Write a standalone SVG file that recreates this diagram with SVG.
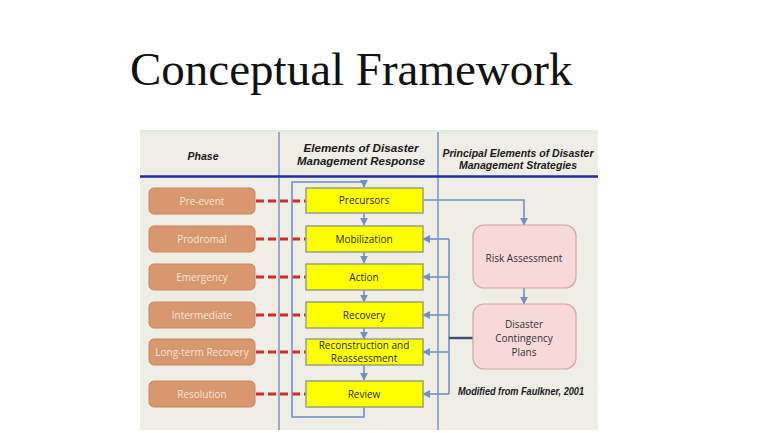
<svg xmlns="http://www.w3.org/2000/svg" width="768" height="433" viewBox="0 0 768 433">
<defs>
<style>
.phase rect{fill:#d8976d;stroke:#c9875e;stroke-width:1}
.phase text{font-family:"Open Sans","Liberation Sans",sans-serif;font-size:10px;fill:#f6e5d8;text-anchor:middle}
.elem rect{fill:#ffff00;stroke:#9aa27a;stroke-width:1.5}
.elem text{font-family:"Open Sans","Liberation Sans",sans-serif;font-size:10px;fill:#2a2a2a;text-anchor:middle}
.strat rect{fill:#f8d9d9;stroke:#d9a3a3;stroke-width:1.2}
.strat text{font-family:"Open Sans","Liberation Sans",sans-serif;font-size:10px;fill:#333;text-anchor:middle}
.hdr{font-family:"Liberation Sans",Arial,sans-serif;font-weight:bold;font-style:italic;font-size:10.5px;fill:#1a1a1a;text-anchor:middle}
.blue{fill:none;stroke:#7290bf;stroke-width:1.6}
.dash{fill:none;stroke:#d42a2a;stroke-width:3;stroke-dasharray:8 4}
</style>
<marker id="ah" viewBox="0 0 10 10" refX="9" refY="5" markerWidth="5" markerHeight="5" orient="auto">
<path d="M0,0 L10,5 L0,10 z" fill="#7290bf"/>
</marker>
</defs>
<rect width="768" height="433" fill="#ffffff"/>
<text x="130" y="85" font-family="'Liberation Serif','Times New Roman',serif" font-size="47" fill="#111">Conceptual Framework</text>
<g id="panel">
<rect x="140" y="130" width="458" height="300" fill="#eeede6"/>
<rect x="140" y="130" width="458" height="4" fill="#e3efdc"/>
<line x1="279" y1="132" x2="279" y2="430" stroke="#7f98c2" stroke-width="1.6"/>
<line x1="438" y1="132" x2="438" y2="430" stroke="#7f98c2" stroke-width="1.6"/>
<line x1="140" y1="176.5" x2="598" y2="176.5" stroke="#1e2fa0" stroke-width="2.6"/>
<text class="hdr" x="203" y="160" font-size="11.5">Phase</text>
<text class="hdr" x="361" y="152" font-size="11.5" textLength="115" lengthAdjust="spacingAndGlyphs">Elements of Disaster</text>
<text class="hdr" x="361" y="165" font-size="11.5" textLength="128" lengthAdjust="spacingAndGlyphs">Management Response</text>
<text class="hdr" x="518" y="157" textLength="151" lengthAdjust="spacingAndGlyphs">Principal Elements of Disaster</text>
<text class="hdr" x="518" y="169" textLength="118" lengthAdjust="spacingAndGlyphs">Management Strategies</text>
<text class="hdr" x="521" y="395" font-size="8" textLength="126" lengthAdjust="spacingAndGlyphs">Modified from Faulkner, 2001</text>
</g>
<g id="connectors">
<line class="dash" x1="256" y1="201" x2="306" y2="201"/>
<line class="dash" x1="256" y1="239" x2="306" y2="239"/>
<line class="dash" x1="256" y1="277" x2="306" y2="277"/>
<line class="dash" x1="256" y1="315" x2="306" y2="315"/>
<line class="dash" x1="256" y1="352" x2="306" y2="352"/>
<line class="dash" x1="256" y1="394" x2="306" y2="394"/>
<path class="blue" d="M364,407 V417 H292 V182 H364 V187" marker-end="url(#ah)"/>
<line class="blue" x1="364" y1="213" x2="364" y2="225" marker-end="url(#ah)"/>
<line class="blue" x1="364" y1="252" x2="364" y2="263" marker-end="url(#ah)"/>
<line class="blue" x1="364" y1="290" x2="364" y2="302" marker-end="url(#ah)"/>
<line class="blue" x1="364" y1="328" x2="364" y2="339" marker-end="url(#ah)"/>
<line class="blue" x1="364" y1="365" x2="364" y2="380" marker-end="url(#ah)"/>
<path class="blue" d="M423,200 H524 V225" marker-end="url(#ah)"/>
<line class="blue" x1="524" y1="288" x2="524" y2="304" marker-end="url(#ah)"/>
<line class="blue" x1="449" y1="239" x2="449" y2="394"/>
<line class="blue" x1="449" y1="239" x2="423" y2="239" marker-end="url(#ah)"/>
<line class="blue" x1="449" y1="277" x2="423" y2="277" marker-end="url(#ah)"/>
<line class="blue" x1="449" y1="315" x2="423" y2="315" marker-end="url(#ah)"/>
<line class="blue" x1="449" y1="352" x2="423" y2="352" marker-end="url(#ah)"/>
<line class="blue" x1="449" y1="394" x2="423" y2="394" marker-end="url(#ah)"/>
<line x1="449" y1="338" x2="473" y2="338" stroke="#3d4f6e" stroke-width="2.4"/>
</g>
<g id="pre-event" class="phase"><rect x="149" y="188" width="106" height="26" rx="5"/><text x="202" y="205">Pre-event</text></g>
<g id="prodromal" class="phase"><rect x="149" y="226" width="106" height="26" rx="5"/><text x="202" y="243">Prodromal</text></g>
<g id="emergency" class="phase"><rect x="149" y="264" width="106" height="26" rx="5"/><text x="202" y="281">Emergency</text></g>
<g id="intermediate" class="phase"><rect x="149" y="302" width="106" height="26" rx="5"/><text x="202" y="319">Intermediate</text></g>
<g id="long-term-recovery" class="phase"><rect x="149" y="339" width="106" height="26" rx="5"/><text x="202" y="356" font-size="9">Long-term Recovery</text></g>
<g id="resolution" class="phase"><rect x="149" y="381" width="106" height="26" rx="5"/><text x="202" y="398">Resolution</text></g>
<g id="precursors" class="elem"><rect x="306" y="188" width="117" height="25"/><text x="364" y="204">Precursors</text></g>
<g id="mobilization" class="elem"><rect x="306" y="226" width="117" height="26"/><text x="364" y="243">Mobilization</text></g>
<g id="action" class="elem"><rect x="306" y="264" width="117" height="26"/><text x="364" y="281">Action</text></g>
<g id="recovery" class="elem"><rect x="306" y="302" width="117" height="26"/><text x="364" y="319">Recovery</text></g>
<g id="reconstruction" class="elem"><rect x="306" y="339" width="117" height="26"/><text x="364" y="348.5" font-size="7.8">Reconstruction and</text><text x="364" y="361.5" font-size="7.8">Reassessment</text></g>
<g id="review" class="elem"><rect x="306" y="381" width="117" height="26"/><text x="364" y="398">Review</text></g>
<g id="risk-assessment" class="strat"><rect x="473" y="225" width="103" height="63" rx="11"/><text x="524" y="262">Risk Assessment</text></g>
<g id="contingency-plans" class="strat"><rect x="473" y="304" width="103" height="65" rx="11"/><text x="524" y="328">Disaster</text><text x="524" y="342">Contingency</text><text x="524" y="356">Plans</text></g>
</svg>
